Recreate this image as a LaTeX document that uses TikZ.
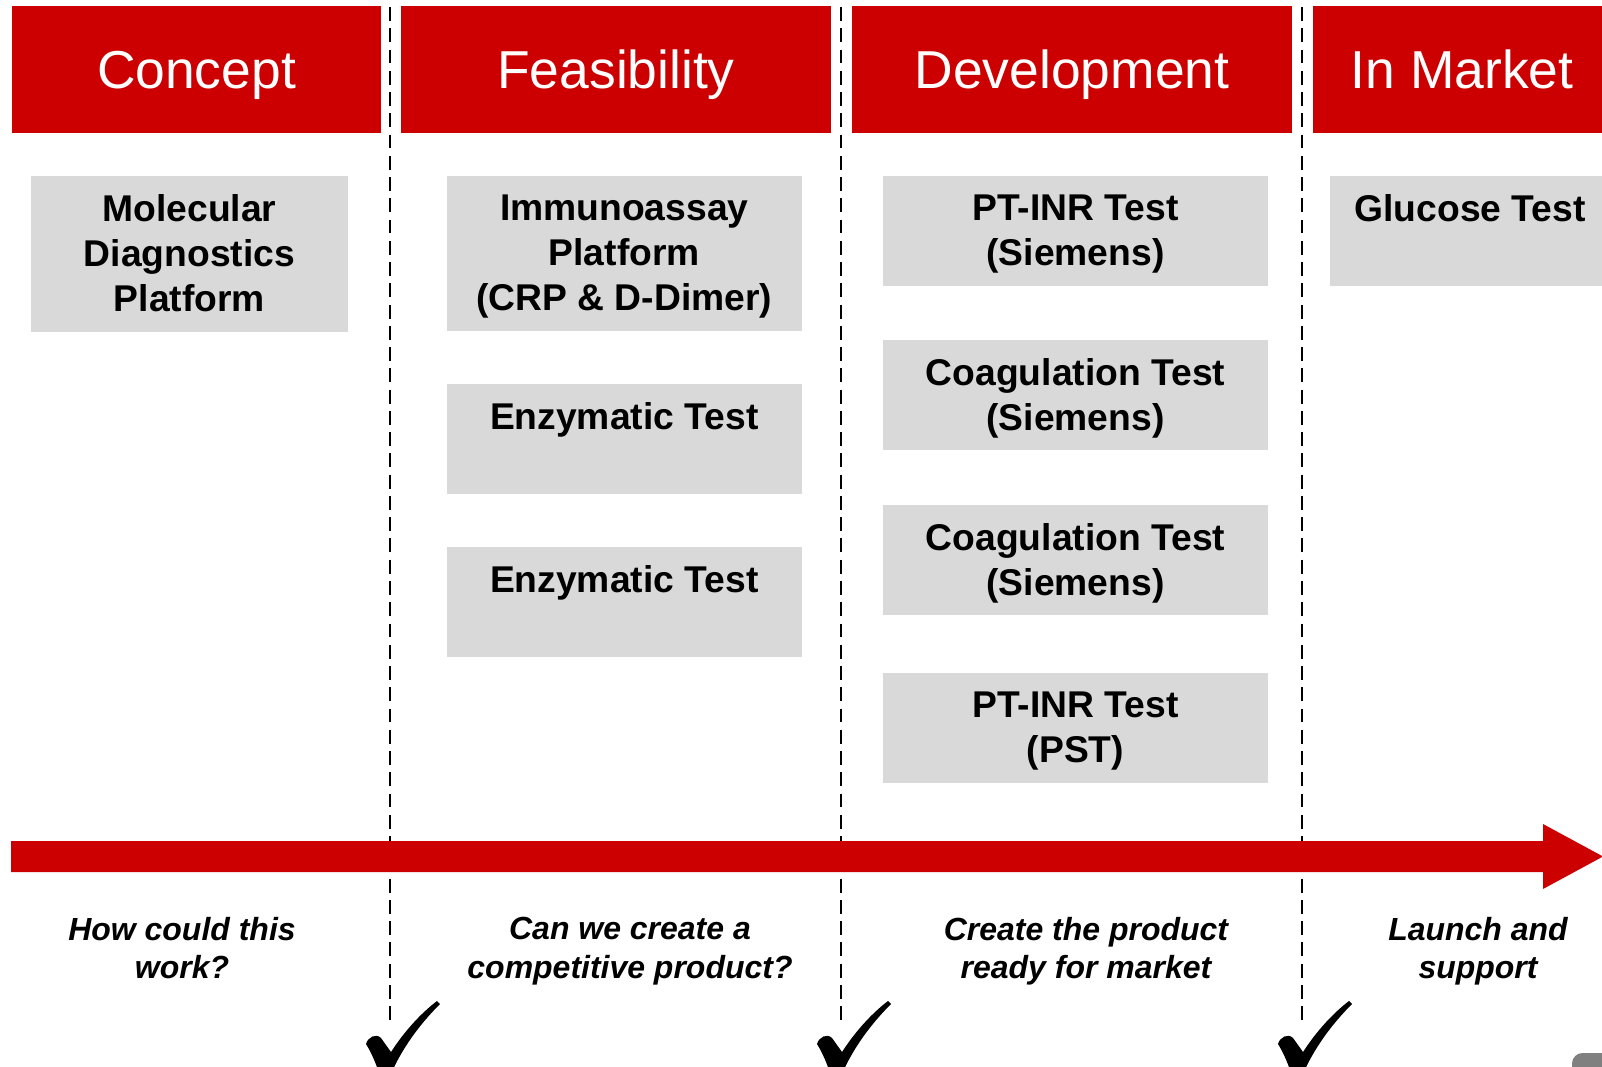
\documentclass[tikz,border=0pt]{standalone}
\usepackage{fontspec}
\setmainfont{Liberation Sans}
\definecolor{phasered}{RGB}{204,0,0}
\definecolor{boxgrey}{RGB}{217,217,217}
\tikzset{
	phase/.style={fill=phasered, text=white, inner sep=0, minimum height=2.54cm, text height=22.1pt, text depth=0pt, font=\fontsize{30.4}{36}\selectfont},
	testbox/.style={fill=boxgrey, anchor=north, inner sep=0, minimum height=2.2cm},
	testtext/.style={anchor=north, align=center, inner sep=0, yshift=-0.37cm, font=\bfseries\fontsize{21.2}{25.5}\selectfont},
	question/.style={anchor=north, align=center, inner sep=0, font=\bfseries\itshape\fontsize{18.2}{22.1}\selectfont},
	gateline/.style={line width=1pt, dash pattern=on 7.9pt off 4.2pt},
	gatetick/.pic={
		\fill (-24,44) .. controls (-22,37) and (-14,33) .. (-9,38) -- (1,52)
			.. controls (14,32) and (30,14) .. (47,1) -- (50,4)
			.. controls (30,24) and (12,48) .. (0,76) -- (-10,76)
			.. controls (-14,63) and (-19,52) .. (-24,44) -- cycle;
	}
}
\begin{document}
\begin{tikzpicture}[x=0.02cm, y=-0.02cm]
		\useasboundingbox (0,0) rectangle (1602,1067);
		
		% Draw phase headers.
		\node[phase, minimum width=7.38cm] (concept) at (196.5,69.5) {Concept};
		\node[phase, minimum width=8.6cm] (feas) at (616,69.5) {Feasibility};
		\node[phase, minimum width=8.8cm] (dev) at (1072,69.5) {Development};
		\node[phase, minimum width=5.96cm] (market) at (1462,69.5) {In Market};
		
		% Draw gates between phases.
		\coordinate (gateAtop) at (390,7);		\coordinate (gateAbot) at (390,1020);
		\coordinate (gateBtop) at (841,7);		\coordinate (gateBbot) at (841,1020);
		\coordinate (gateCtop) at (1302,7);		\coordinate (gateCbot) at (1302,1020);
		\draw[gateline] (gateAtop) -- (gateAbot);
		\draw[gateline] (gateBtop) -- (gateBbot);
		\draw[gateline] (gateCtop) -- (gateCbot);
		
		% Draw concept column.
		\node[testbox, minimum width=6.34cm, minimum height=3.12cm] (mdp) at (189.5,176) {};
		\node[testtext] (mdptext) at (mdp.north) {Molecular\\Diagnostics\\Platform};
		
		% Draw feasibility column.
		\node[testbox, minimum width=7.11cm, minimum height=3.1cm] (immuno) at (624.25,176) {};
		\node[testtext] (immunotext) at (immuno.north) {Immunoassay\\Platform\\(CRP \& D-Dimer)};
		\node[testbox, minimum width=7.11cm] (enzA) at (624.25,384) {};
		\node[testtext] (enzAtext) at (enzA.north) {Enzymatic Test};
		\node[testbox, minimum width=7.11cm] (enzB) at (624.25,546.6) {};
		\node[testtext] (enzBtext) at (enzB.north) {Enzymatic Test};
		
		% Draw development column.
		\node[testbox, minimum width=7.7cm] (ptA) at (1075.5,176) {};
		\node[testtext] (ptAtext) at (ptA.north) {PT-INR Test\\(Siemens)};
		\node[testbox, minimum width=7.7cm] (coagA) at (1075.5,340) {};
		\node[testtext] (coagAtext) at (coagA.north) {Coagulation Test\\(Siemens)};
		\node[testbox, minimum width=7.7cm] (coagB) at (1075.5,505) {};
		\node[testtext] (coagBtext) at (coagB.north) {Coagulation Test\\(Siemens)};
		\node[testbox, minimum width=7.7cm] (ptB) at (1075.5,673) {};
		\node[testtext] (ptBtext) at (ptB.north) {PT-INR Test\\(PST)};
		
		% Draw in market column.
		\node[testbox, minimum width=5.6cm] (gluc) at (1470,176) {};
		\node[testtext] (gluctext) at (gluc.north) {Glucose Test};
		
		% Draw time arrow.
		\fill[phasered] (11,841) -- (1543,841) -- (1543,824) -- (1603,856.5) -- (1543,889) -- (1543,872) -- (11,872) -- cycle;
		
		% Draw questions below the arrow.
		\node[question] (qconcept) at (182,916.5) {How could this\\work?};
		\node[question] (qfeas) at (630,916.5) {Can we create a\\competitive product?};
		\node[question] (qdev) at (1086,916.5) {Create the product\\ready for market};
		\node[question] (qmarket) at (1478,916.5) {Launch and\\support};
		
		% Draw ticks at the gates.
		\pic at (390,1000) {gatetick};
		\pic at (841,1000) {gatetick};
		\pic at (1302,1000) {gatetick};
		
		% Corner of a shape cut off by the page.
		\fill[gray, rounded corners=6pt] (1572,1053) rectangle (1640,1100);
	\end{tikzpicture}
\end{document}
